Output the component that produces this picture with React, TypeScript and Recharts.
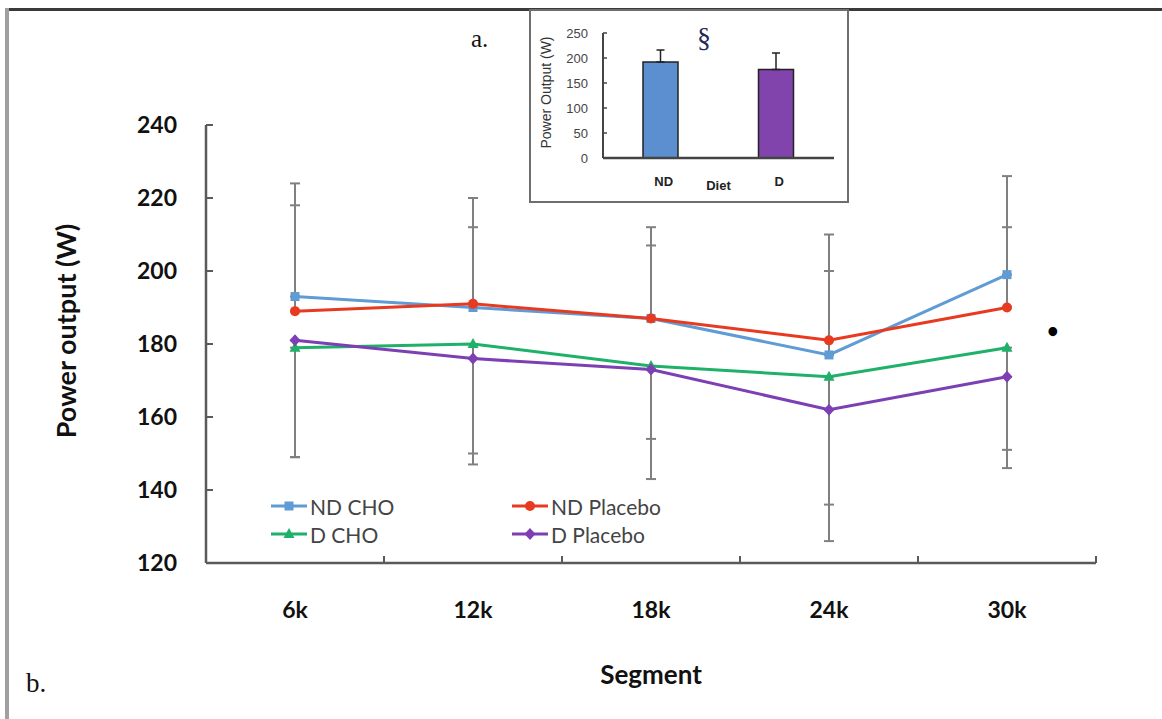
import React from 'react';
import {
  ComposedChart,
  Line,
  XAxis,
  YAxis,
  ErrorBar,
  Legend,
  Label,
  BarChart,
  Bar,
  Cell,
} from 'recharts';

// main panel (b): power output per segment
const SEGMENTS = ['6k', '12k', '18k', '24k', '30k'];
const ND_CHO = [193, 190, 187, 177, 199];
const ND_PLACEBO = [189, 191, 187, 181, 190];
const D_CHO = [179, 180, 174, 171, 179];
const D_PLACEBO = [181, 176, 173, 162, 171];
// one-sided SD bars: ND groups point up, D groups point down
const ND_CHO_SD = [31, 30, 25, 23, 27];
const ND_PLACEBO_SD = [29, 21, 20, 29, 22];
const D_CHO_SD = [30, 33, 31, 35, 33];
const D_PLACEBO_SD = [32, 26, 19, 36, 20];
const Y_TICKS = [120, 140, 160, 180, 200, 220, 240];

// inset panel (a): power output by diet
const DIETS = ['ND', 'D'];
const DIET_POWER = [192, 177];
const DIET_SD = [24, 33];
const INSET_TICKS = [0, 50, 100, 150, 200, 250];

const FONT = 'Lato, "Open Sans", sans-serif';
const SANS = "'Liberation Sans', Arial, sans-serif";
const AXIS_GRAY = '#5a5a5a';

const SERIES = [
  { key: 'ndCho', name: 'ND CHO', color: '#5f9bd4', shape: 'square' },
  { key: 'ndPlacebo', name: 'ND Placebo', color: '#e83a20', shape: 'circle' },
  { key: 'dCho', name: 'D CHO', color: '#1fb06a', shape: 'triangle' },
  { key: 'dPlacebo', name: 'D Placebo', color: '#7d3fb4', shape: 'diamond' },
];

const DIET_COLORS = ['#5b8fcf', '#8143ac'];

const chartData = SEGMENTS.map((seg, i) => ({
  pos: i + 1,
  segment: seg,
  ndCho: ND_CHO[i],
  ndPlacebo: ND_PLACEBO[i],
  dCho: D_CHO[i],
  dPlacebo: D_PLACEBO[i],
  ndChoErr: [0, ND_CHO_SD[i]],
  ndPlaceboErr: [0, ND_PLACEBO_SD[i]],
  dChoErr: [D_CHO_SD[i], 0],
  dPlaceboErr: [D_PLACEBO_SD[i], 0],
}));

// category centres plus the boundaries between them (Excel-style ticks)
const X_TICKS = SEGMENTS.flatMap((_, i) => [i + 0.5, i + 1]).concat(SEGMENTS.length + 0.5);

const dietData = DIETS.map((d, i) => ({
  diet: d,
  power: DIET_POWER[i],
  err: [0, DIET_SD[i]],
}));

function marker(shape: string, cx: number, cy: number, color: string, key?: string | number) {
  switch (shape) {
    case 'square':
      return <rect key={key} x={cx - 4.5} y={cy - 4.5} width={9} height={9} fill={color} />;
    case 'circle':
      return <circle key={key} cx={cx} cy={cy} r={5} fill={color} />;
    case 'triangle':
      return (
        <polygon
          key={key}
          points={`${cx},${cy - 6} ${cx + 5.5},${cy + 4} ${cx - 5.5},${cy + 4}`}
          fill={color}
        />
      );
    default:
      return (
        <polygon
          key={key}
          points={`${cx},${cy - 6} ${cx + 5.5},${cy} ${cx},${cy + 6} ${cx - 5.5},${cy}`}
          fill={color}
        />
      );
  }
}

function SegmentTick(props: any) {
  const { x, y, payload } = props;
  const v = payload.value;
  if (Number.isInteger(v)) {
    return (
      <text x={x} y={y + 47} dy="0.35em" textAnchor="middle" fontFamily={FONT} fontWeight={700} fontSize={23} fill="#111">
        {SEGMENTS[v - 1]}
      </text>
    );
  }
  return <line x1={x} x2={x} y1={y} y2={y - 7} stroke={AXIS_GRAY} strokeWidth={2} />;
}

function PowerTick(props: any) {
  const { x, y, payload } = props;
  return (
    <g>
      <line x1={x} x2={x + 7} y1={y} y2={y} stroke={AXIS_GRAY} strokeWidth={2} />
      <text x={x - 29} y={y} dy="0.35em" textAnchor="end" fontFamily={FONT} fontWeight={700} fontSize={23} fill="#111">
        {payload.value}
      </text>
    </g>
  );
}

function LegendGrid({ payload }: any) {
  const names = (payload || []).map((e: any) => e.value);
  return (
    <div
      style={{
        display: 'grid',
        gridTemplateColumns: '241px 241px',
        gridAutoRows: '28px',
        fontFamily: FONT,
        fontSize: 21,
        color: '#444',
      }}
    >
      {SERIES.filter((s) => names.includes(s.name)).map((s) => (
        <div key={s.key} style={{ display: 'flex', alignItems: 'center' }}>
          <svg width={38} height={16} style={{ marginRight: 2 }}>
            <line x1={1} x2={37} y1={8} y2={8} stroke={s.color} strokeWidth={3} />
            {marker(s.shape, 19, 8, s.color)}
          </svg>
          <span>{s.name}</span>
        </div>
      ))}
    </div>
  );
}

function DietTick(props: any) {
  const { x, y, payload } = props;
  return (
    <text x={x + 3} y={y + 23} dy="0.35em" textAnchor="middle" fontFamily={SANS} fontWeight={700} fontSize={13} fill="#222">
      {payload.value}
    </text>
  );
}

function InsetTick(props: any) {
  const { x, y, payload } = props;
  return (
    <g>
      <line x1={x} x2={x + 4} y1={y} y2={y} stroke="#444" strokeWidth={1.5} />
      <text x={x - 15} y={y} dy="0.35em" textAnchor="end" fontFamily={SANS} fontSize={13} fill="#444">
        {payload.value}
      </text>
    </g>
  );
}

function DietInset() {
  return (
    <div
      style={{
        position: 'absolute',
        left: 529,
        top: 9,
        width: 316,
        height: 190,
        border: '2px solid #6e6e6e',
        background: '#fff',
      }}
    >
      <BarChart width={316} height={190} data={dietData} margin={{ top: 22, right: 13, bottom: 13, left: 12 }}>
        <XAxis
          dataKey="diet"
          height={30}
          tickSize={0}
          tickMargin={0}
          tickLine={false}
          axisLine={{ stroke: '#444', strokeWidth: 2.5 }}
          tick={<DietTick />}
        >
          <Label
            content={({ viewBox }: any) => (
              <text
                x={viewBox.x + viewBox.width / 2}
                y={viewBox.y + 27}
                dy="0.35em"
                textAnchor="middle"
                fontFamily={SANS}
                fontWeight={700}
                fontSize={13}
                fill="#222"
              >
                Diet
              </text>
            )}
          />
        </XAxis>
        <YAxis
          domain={[0, 250]}
          ticks={INSET_TICKS}
          width={60}
          tickSize={0}
          tickMargin={0}
          tickLine={false}
          axisLine={{ stroke: '#444', strokeWidth: 2 }}
          tick={<InsetTick />}
        >
          <Label
            content={({ viewBox }: any) => {
              const cx = viewBox.x + viewBox.width - 57;
              const cy = viewBox.y + viewBox.height / 2 - 3;
              return (
                <text
                  x={cx}
                  y={cy}
                  dy="0.35em"
                  textAnchor="middle"
                  transform={`rotate(-90, ${cx}, ${cy})`}
                  fontFamily={SANS}
                  fontSize={14}
                  fill="#333"
                >
                  Power Output (W)
                </text>
              );
            }}
          />
        </YAxis>
        <Bar dataKey="power" barSize={35} stroke="#222" strokeWidth={1.5} isAnimationActive={false}>
          {dietData.map((d, i) => (
            <Cell key={d.diet} fill={DIET_COLORS[i]} />
          ))}
          <ErrorBar dataKey="err" direction="y" width={4} stroke="#222" strokeWidth={1.5} />
        </Bar>
      </BarChart>
      <div
        style={{
          position: 'absolute',
          left: 166,
          top: 12,
          fontFamily: "'Liberation Serif', 'Times New Roman', serif",
          fontSize: 28,
          lineHeight: '30px',
          color: '#1f2a55',
        }}
      >
        §
      </div>
    </div>
  );
}

export default function App() {
  return (
    <div style={{ position: 'absolute', left: 0, top: 0, width: 1162, height: 719, background: '#fff', overflow: 'hidden' }}>
      {/* frame */}
      <div style={{ position: 'absolute', left: 5, top: 8, width: 1157, height: 3, background: '#3a3a3a' }} />
      <div style={{ position: 'absolute', left: 5, top: 8, width: 4, height: 711, background: '#a0a0a0' }} />

      <ComposedChart
        width={1162}
        height={719}
        data={chartData}
        margin={{ top: 125, right: 66, bottom: 96, left: 146 }}
      >
        <XAxis
          dataKey="pos"
          type="number"
          domain={[0.5, SEGMENTS.length + 0.5]}
          ticks={X_TICKS}
          interval={0}
          height={60}
          tickSize={0}
          tickMargin={0}
          tickLine={false}
          axisLine={{ stroke: AXIS_GRAY, strokeWidth: 2.5 }}
          tick={<SegmentTick />}
        >
          <Label
            content={({ viewBox }: any) => (
              <text
                x={viewBox.x + viewBox.width / 2}
                y={viewBox.y + 112}
                dy="0.35em"
                textAnchor="middle"
                fontFamily={FONT}
                fontWeight={700}
                fontSize={26}
                fill="#111"
              >
                Segment
              </text>
            )}
          />
        </XAxis>
        <YAxis
          domain={[120, 240]}
          ticks={Y_TICKS}
          width={60}
          tickSize={0}
          tickMargin={0}
          tickLine={false}
          axisLine={{ stroke: AXIS_GRAY, strokeWidth: 2.5 }}
          tick={<PowerTick />}
        >
          <Label
            content={({ viewBox }: any) => {
              const cx = viewBox.x + viewBox.width - 139;
              const cy = viewBox.y + viewBox.height / 2 - 13;
              return (
                <text
                  x={cx}
                  y={cy}
                  dy="0.35em"
                  textAnchor="middle"
                  transform={`rotate(-90, ${cx}, ${cy})`}
                  fontFamily={FONT}
                  fontWeight={700}
                  fontSize={27}
                  fill="#111"
                >
                  Power output (W)
                </text>
              );
            }}
          />
        </YAxis>
        <Legend
          layout="vertical"
          align="center"
          verticalAlign="middle"
          content={<LegendGrid />}
          wrapperStyle={{ left: 270, top: 492, width: 500, height: 60 }}
        />
        {SERIES.map((s) => (
          <Line
            key={s.key}
            dataKey={s.key}
            name={s.name}
            stroke={s.color}
            strokeWidth={3}
            isAnimationActive={false}
            dot={(p: any) => marker(s.shape, p.cx, p.cy, s.color, `${s.key}-${p.index}`)}
            activeDot={false}
          >
            <ErrorBar dataKey={`${s.key}Err`} direction="y" width={5} stroke="#808080" strokeWidth={2} />
          </Line>
        ))}
      </ComposedChart>

      <DietInset />

      <div style={{ position: 'absolute', left: 471, top: 25, fontFamily: "'Liberation Serif', serif", fontSize: 25, color: '#111' }}>
        a.
      </div>
      <div style={{ position: 'absolute', left: 26, top: 668, fontFamily: "'Liberation Serif', serif", fontSize: 27, color: '#111' }}>
        b.
      </div>
      <div style={{ position: 'absolute', left: 1047, top: 317, fontFamily: FONT, fontWeight: 700, fontSize: 20, lineHeight: '26px', color: '#000' }}>
        •
      </div>
    </div>
  );
}
